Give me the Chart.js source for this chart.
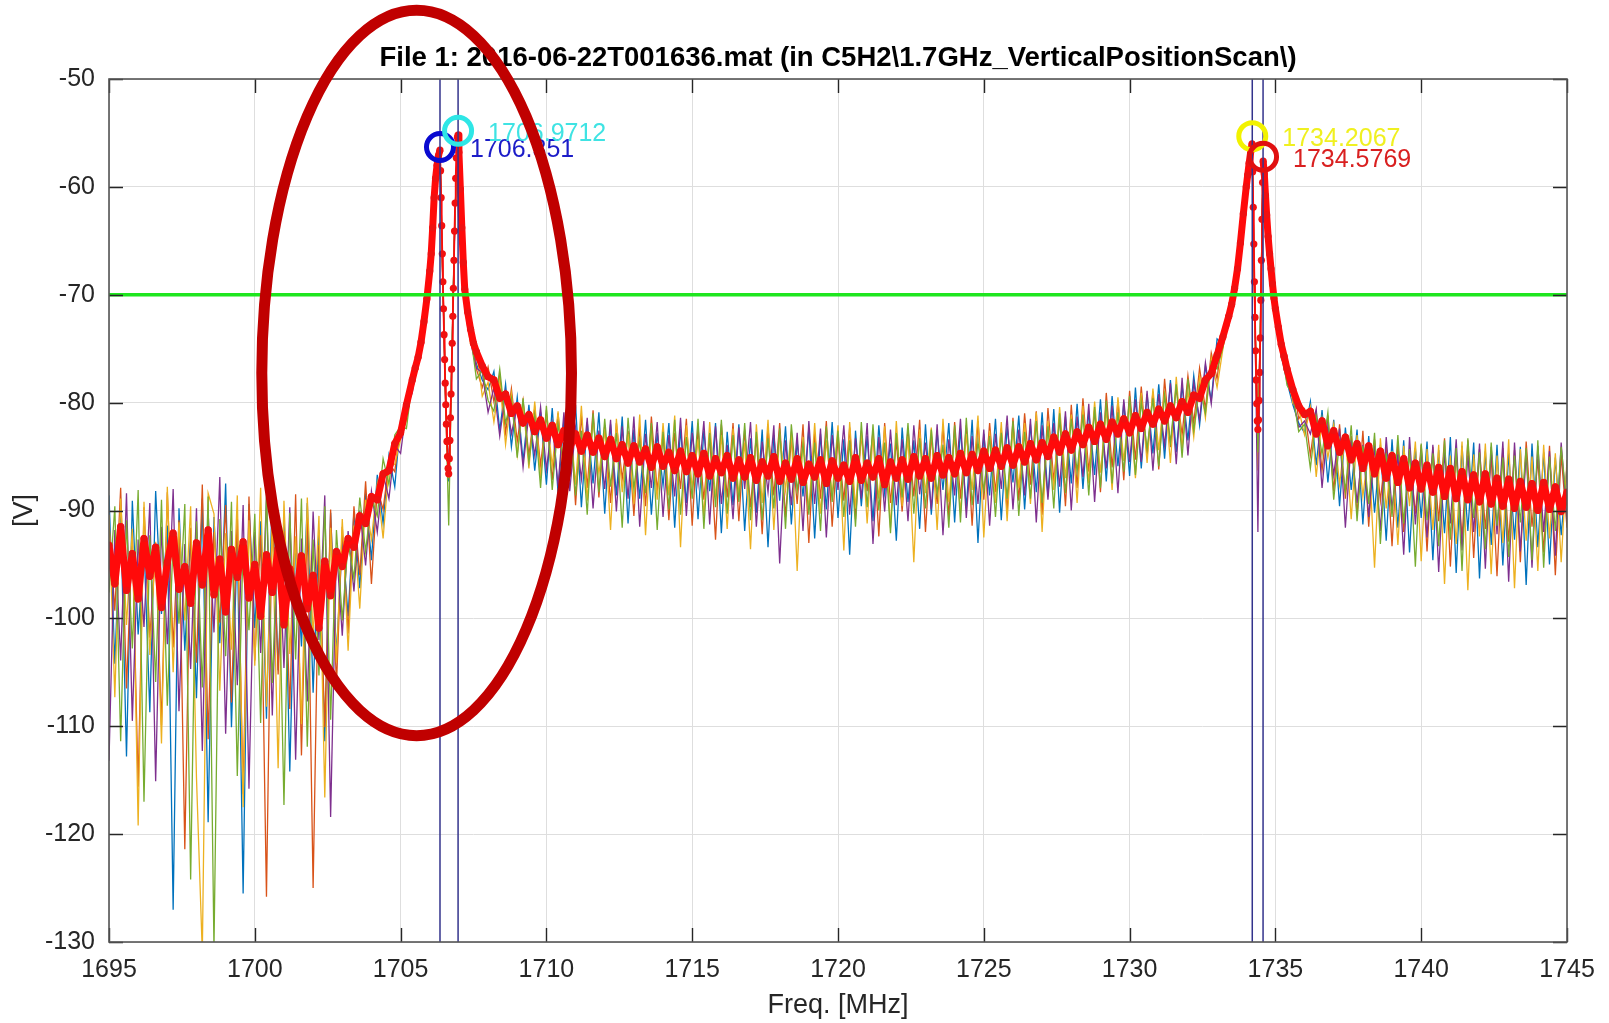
<!DOCTYPE html>
<html>
<head>
<meta charset="utf-8">
<script src="https://cdn.jsdelivr.net/npm/chart.js@4.4.1/dist/chart.umd.min.js"></script>
<style>
  html, body { margin: 0; padding: 0; background: #ffffff; }
  #wrap { width: 1609px; height: 1023px; }
</style>
</head>
<body>
<div id="wrap"><canvas id="c" width="1609" height="1023"></canvas></div>
<script>
// ---------------- DATA ----------------
const titleText = 'File 1: 2016-06-22T001636.mat (in C5H2\\1.7GHz_VerticalPositionScan\\)';
const xTitle = 'Freq. [MHz]';
const yTitle = '[V]';
const xMin = 1695, xMax = 1745, xStep = 5;
const yMin = -130, yMax = -50, yStep = 10;
const threshold = -70;

const peakFreq  = [1706.351, 1706.9712, 1734.2067, 1734.5769];
const peakLevel = [-56.3, -54.8, -55.3, -57.2];
const peakLabel = ['1706.351', '1706.9712', '1734.2067', '1734.5769'];

// frequency samples shared by the individual (coloured) traces
const freq = [
  1695,1695.2,1695.4,1695.6,1695.8,1696,1696.2,1696.4,1696.6,1696.8,
  1697,1697.2,1697.4,1697.6,1697.8,1698,1698.2,1698.4,1698.6,1698.8,
  1699,1699.2,1699.4,1699.6,1699.8,1700,1700.2,1700.4,1700.6,1700.8,
  1701,1701.2,1701.4,1701.6,1701.8,1702,1702.2,1702.4,1702.6,1702.8,
  1703,1703.2,1703.4,1703.6,1703.8,1704,1704.2,1704.4,1704.6,1704.8,
  1705,
  1705.2,1705.4,1705.6,1705.7,1705.8,1705.9,1706,1706.1,1706.2,1706.3,
  1706.35,1706.45,1706.55,1706.65,1706.75,1706.85,1706.95,1707,1707.1,1707.2,
  1707.3,1707.4,1707.6,1707.8,1708,
  1708.2,1708.4,1708.6,1708.8,1709, 1709.2,1709.4,1709.6,1709.8,1710,
  1710.2,1710.4,1710.6,1710.8,1711, 1711.2,1711.4,1711.6,1711.8,1712,
  1712.2,1712.4,1712.6,1712.8,1713, 1713.2,1713.4,1713.6,1713.8,1714,
  1714.2,1714.4,1714.6,1714.8,1715, 1715.2,1715.4,1715.6,1715.8,1716,
  1716.2,1716.4,1716.6,1716.8,1717, 1717.2,1717.4,1717.6,1717.8,1718,
  1718.2,1718.4,1718.6,1718.8,1719, 1719.2,1719.4,1719.6,1719.8,1720,
  1720.2,1720.4,1720.6,1720.8,1721, 1721.2,1721.4,1721.6,1721.8,1722,
  1722.2,1722.4,1722.6,1722.8,1723, 1723.2,1723.4,1723.6,1723.8,1724,
  1724.2,1724.4,1724.6,1724.8,1725, 1725.2,1725.4,1725.6,1725.8,1726,
  1726.2,1726.4,1726.6,1726.8,1727, 1727.2,1727.4,1727.6,1727.8,1728,
  1728.2,1728.4,1728.6,1728.8,1729, 1729.2,1729.4,1729.6,1729.8,1730,
  1730.2,1730.4,1730.6,1730.8,1731, 1731.2,1731.4,1731.6,1731.8,1732,
  1732.2,1732.4,1732.6,1732.8,1733,
  1733.2,1733.4,1733.5,1733.6,1733.7,1733.8,1733.9,1734,1734.1,1734.2,
  1734.3,1734.4,1734.5,1734.58,1734.7,1734.8,1734.9,1735,1735.1,1735.2,
  1735.4,1735.6,1735.8,1736,
  1736.2,1736.4,1736.6,1736.8,1737, 1737.2,1737.4,1737.6,1737.8,1738,
  1738.2,1738.4,1738.6,1738.8,1739, 1739.2,1739.4,1739.6,1739.8,1740,
  1740.2,1740.4,1740.6,1740.8,1741, 1741.2,1741.4,1741.6,1741.8,1742,
  1742.2,1742.4,1742.6,1742.8,1743, 1743.2,1743.4,1743.6,1743.8,1744,
  1744.2,1744.4,1744.6,1744.8,1745
];

const traceBlue = [
  -88.6,-104.2,-90.3,-112.8,-89.1,-101.5,-93.0,-108.7,-88.2,-99.6,
  -91.4,-127.0,-89.8,-103.0,-92.2,-107.4,-88.9,-118.9,-90.6,-102.3,
  -87.5,-110.1,-92.8,-125.5,-89.4,-100.9,-91.0,-109.3,-88.1,-104.8,
  -90.7,-114.2,-92.5,-102.6,-89.3,-106.9,-91.8,-111.4,-90.2,-103.5,
  -92.6,-99.8,-90.1,-97.2,-88.4,-94.6,-86.7,-91.2,-84.9,-87.8,
  -81.6,
  -81.0,-78.6,-75.2,-74.9,-72.0,-70.8,-67.5,-64.2,-59.6,-57.4,-56.9,-69.2,-80.6,-87.3,-77.3,-64.5,-55.8,-57.2,-64.1,-70.2,-72.6,-74.1,-76.4,-77.9,-78.8,
  -77.1,-82.6,-78.3,-84.1,-79.5, -85.4,-80.2,-86.3,-80.9,-87.6,
  -80.5,-88.4,-81.6,-86.9,-80.2, -89.7,-81.8,-87.5,-80.9,-90.3,
  -82.0,-88.6,-81.3,-91.2,-82.5, -88.9,-81.6,-90.4,-82.8,-87.7,
  -81.9,-91.6,-82.4,-89.3,-81.7, -90.8,-82.6,-88.2,-81.9,-92.1,
  -82.7,-89.5,-82.0,-91.9,-83.3, -90.2,-82.5,-93.4,-83.0,-89.1,
  -82.2,-91.3,-83.6,-88.7,-82.4, -92.6,-82.9,-89.9,-81.8,-90.7,
  -83.4,-94.1,-82.6,-89.6,-83.1, -91.0,-82.1,-88.4,-83.8,-92.8,
  -82.3,-89.2,-83.5,-91.7,-82.0, -90.4,-82.7,-88.1,-81.9,-91.1,
  -82.4,-89.8,-81.6,-93.0,-82.9, -88.6,-81.5,-90.9,-82.2,-87.4,
  -81.2,-89.9,-82.0,-88.3,-80.9, -88.7,-80.6,-90.2,-81.3,-87.5,
  -80.1,-88.0,-80.8,-86.7,-79.7, -87.3,-79.4,-85.9,-80.0,-86.8,
  -78.6,-86.1,-79.2,-84.7,-78.3, -85.2,-77.9,-84.6,-78.4,-83.5,
  -77.5,-82.1,-76.6,-79.8,-74.1,
  -74.6,-72.5,-71.4,-69.0,-67.9,-65.5,-62.8,-60.3,-58.1,-56.3,-72.5,-83.1,-70.9,-57.9,-63.0,-66.7,-69.5,-71.9,-73.8,-75.6,-78.1,-80.2,-81.9,-82.8,
  -79.9,-85.8,-80.7,-87.4,-81.6, -89.6,-82.3,-88.1,-82.5,-91.3,
  -83.1,-90.2,-83.9,-92.8,-83.4, -91.6,-83.5,-93.9,-84.2,-90.7,
  -83.6,-94.6,-84.4,-92.1,-83.2, -95.8,-84.0,-91.9,-83.7,-96.3,
  -84.5,-93.2,-83.9,-95.1,-84.7, -92.7,-84.1,-96.9,-83.8,-93.4,
  -84.6,-95.0,-85.1,-92.3,-85.9
];

const traceOrange = [
  -91.2,-99.3,-87.9,-106.5,-92.4,-115.6,-89.7,-101.8,-93.5,-109.9,
  -88.3,-102.7,-90.9,-121.4,-91.6,-104.1,-87.6,-111.2,-92.0,-100.4,
  -89.5,-107.8,-90.4,-116.3,-88.7,-103.9,-92.3,-125.8,-89.0,-105.2,
  -91.9,-108.4,-88.5,-112.7,-90.8,-125.0,-93.2,-110.1,-89.9,-106.3,
  -91.5,-101.4,-89.6,-96.0,-87.3,-96.8,-88.0,-89.9,-85.6,-86.4,
  -82.1,
  -79.6,-78.8,-76.5,-73.9,-72.9,-70.1,-68.1,-63.5,-59.0,-57.3,-56.9,-68.5,-80.0,-86.9,-76.6,-63.9,-55.7,-57.1,-64.5,-70.9,-73.0,-72.8,-76.9,-78.6,-76.7,
  -79.9,-77.5,-82.8,-78.7,-83.6, -79.8,-84.9,-80.5,-85.8,-81.1,
  -87.2,-81.0,-86.4,-80.6,-89.5, -81.2,-87.9,-80.7,-88.8,-82.1,
  -89.3,-81.9,-87.1,-82.6,-90.5, -82.2,-89.6,-81.3,-88.2,-82.9,
  -90.9,-82.8,-88.0,-81.5,-91.4, -82.3,-89.0,-83.1,-92.7,-82.0,
  -88.8,-81.9,-91.0,-82.5,-89.7, -83.1,-92.2,-82.4,-88.6,-81.9,
  -90.6,-83.3,-89.4,-82.0,-93.0, -82.8,-88.9,-81.7,-91.5,-83.2,
  -89.1,-82.3,-90.8,-82.9,-88.2, -82.6,-92.4,-81.9,-89.3,-83.6,
  -90.1,-82.4,-88.7,-81.6,-92.0, -83.0,-89.4,-82.2,-90.6,-81.8,
  -88.9,-82.1,-91.4,-81.7,-89.0, -81.9,-88.3,-82.4,-90.1,-81.4,
  -89.1,-81.0,-87.6,-80.8,-90.4, -80.5,-87.3,-81.4,-89.6,-80.2,
  -87.9,-79.6,-86.4,-80.7,-88.3, -79.1,-86.0,-79.8,-87.2,-78.9,
  -85.3,-78.5,-84.9,-79.0,-86.2, -77.8,-84.1,-78.6,-83.0,-77.5,
  -81.9,-76.8,-80.6,-75.4,-77.8,
  -73.2,-72.8,-70.5,-69.9,-67.2,-65.6,-62.7,-60.2,-58.0,-56.2,-72.3,-83.8,-70.7,-57.8,-62.9,-66.0,-69.6,-71.0,-73.9,-74.3,-77.9,-78.2,-81.5,-80.6,
  -84.9,-80.8,-86.3,-81.2,-88.2, -82.0,-88.9,-83.1,-90.4,-82.6,
  -91.5,-83.4,-89.1,-84.1,-93.3, -83.7,-92.0,-84.6,-90.3,-83.9,
  -93.8,-84.1,-91.0,-83.3,-95.2, -84.6,-92.6,-83.5,-94.4,-84.3,
  -91.7,-85.0,-96.1,-84.2,-92.9, -84.4,-94.8,-83.6,-91.5,-85.2,
  -93.9,-84.0,-96.0,-84.8,-91.6
];

const traceYellow = [
  -90.4,-107.3,-88.9,-100.6,-91.7,-119.2,-89.2,-103.4,-92.9,-111.6,
  -87.8,-105.0,-91.1,-100.2,-89.6,-114.8,-131.0,-88.4,-90.3,-106.7,
  -92.1,-102.9,-88.6,-117.5,-90.9,-104.4,-87.9,-108.2,-91.3,-113.9,
  -89.1,-103.3,-92.4,-109.8,-88.8,-101.7,-90.5,-116.6,-91.6,-104.1,
  -90.8,-103.0,-91.4,-99.1,-89.0,-92.7,-87.5,-92.6,-86.0,-85.7,
  -83.4,
  -81.6,-77.2,-76.9,-74.0,-73.2,-70.6,-67.9,-64.0,-59.4,-57.5,-56.8,-69.0,-80.5,-87.0,-77.1,-64.3,-55.6,-57.0,-63.5,-69.8,-72.7,-74.6,-75.0,-79.4,-78.1,
  -81.8,-78.0,-83.9,-79.2,-84.8, -80.0,-86.1,-79.9,-87.0,-80.7,
  -85.9,-80.8,-88.9,-81.4,-87.6, -80.3,-89.1,-81.5,-86.6,-82.4,
  -91.8,-81.5,-88.3,-82.9,-89.4, -81.1,-92.3,-82.5,-89.0,-81.9,
  -88.6,-81.2,-93.4,-82.1,-87.9, -83.4,-90.5,-81.8,-88.8,-83.0,
  -91.7,-82.4,-88.5,-83.7,-93.6, -82.0,-89.3,-81.6,-91.8,-82.9,
  -88.1,-82.7,-95.6,-83.2,-90.0, -81.9,-90.3,-83.5,-88.6,-82.1,
  -93.7,-81.8,-89.8,-82.6,-91.2, -83.0,-88.9,-82.2,-91.6,-81.7,
  -89.6,-83.1,-94.8,-82.5,-88.4, -82.3,-91.8,-81.5,-89.2,-83.1,
  -90.2,-82.9,-88.1,-81.2,-92.5, -82.6,-89.3,-81.8,-91.0,-82.2,
  -87.9,-81.9,-89.4,-80.9,-92.0, -81.7,-88.1,-80.4,-87.0,-81.1,
  -89.3,-80.3,-87.5,-79.9,-86.5, -80.6,-88.1,-79.5,-85.4,-80.2,
  -87.0,-79.1,-85.6,-78.7,-84.4, -78.9,-85.6,-77.6,-84.2,-78.9,
  -83.2,-77.6,-81.4,-75.9,-78.6,
  -75.0,-71.6,-71.6,-69.1,-68.0,-65.1,-62.6,-60.1,-57.9,-56.1,-72.4,-86.3,-70.6,-57.7,-62.8,-66.5,-68.8,-72.0,-73.4,-75.9,-76.8,-80.1,-80.6,-83.0,
  -80.4,-86.9,-81.5,-85.1,-82.0, -87.6,-82.9,-90.8,-83.0,-88.7,
  -84.2,-95.3,-83.3,-89.8,-84.5, -93.2,-84.0,-89.6,-83.6,-94.7,
  -84.3,-91.8,-83.9,-96.8,-84.9, -93.1,-83.6,-97.4,-84.8,-92.4,
  -83.8,-95.9,-84.9,-93.0,-83.4, -97.2,-84.3,-92.8,-85.0,-95.6,
  -83.9,-92.6,-84.7,-94.8,-85.3
];

const tracePurple = [
  -113.2,-91.8,-103.9,-88.4,-109.5,-92.7,-100.8,-89.3,-115.1,-91.5,
  -102.4,-88.0,-108.6,-93.1,-104.7,-89.8,-112.3,-90.2,-101.3,-86.9,
  -110.7,-91.9,-106.2,-89.5,-115.8,-92.0,-103.2,-88.8,-109.0,-91.2,
  -104.6,-89.7,-113.1,-92.6,-107.7,-90.1,-102.0,-88.6,-118.4,-93.4,
  -101.6,-91.9,-97.5,-90.0,-95.1,-88.2,-92.0,-86.6,-88.9,-84.0,
  -84.7,
  -80.5,-79.1,-75.5,-75.3,-71.8,-71.0,-67.3,-64.1,-59.3,-57.2,-56.8,-68.7,-80.3,-86.8,-77.0,-64.2,-55.6,-56.9,-64.0,-69.9,-71.9,-74.4,-76.8,-77.2,-80.9,
  -78.6,-83.1,-79.0,-82.9,-80.3, -86.0,-81.0,-84.9,-80.4,-86.2,
  -81.9,-87.7,-80.9,-88.2,-82.3, -87.1,-81.4,-89.8,-82.6,-88.0,
  -81.6,-90.1,-82.2,-88.9,-81.3, -91.5,-82.9,-87.9,-81.8,-90.6,
  -83.0,-88.7,-81.4,-90.5,-82.8, -87.6,-81.7,-91.3,-82.2,-89.4,
  -83.9,-90.8,-82.3,-88.0,-81.8, -91.5,-83.6,-88.3,-82.1,-94.9,
  -83.5,-89.5,-82.8,-91.9,-81.7, -89.4,-82.4,-92.5,-83.0,-88.1,
  -82.1,-90.4,-83.3,-88.9,-81.9, -93.1,-83.2,-90.1,-82.5,-89.5,
  -83.4,-91.0,-82.1,-88.5,-83.7, -89.9,-82.0,-92.3,-83.4,-88.6,
  -81.5,-90.7,-83.1,-89.4,-82.5, -91.4,-82.9,-88.0,-81.2,-89.9,
  -82.5,-88.6,-81.5,-91.1,-82.1, -89.0,-81.9,-87.8,-80.8,-90.0,
  -81.3,-86.9,-80.1,-89.2,-80.9, -86.1,-80.3,-88.4,-79.7,-85.5,
  -79.7,-85.5,-78.9,-86.3,-79.2, -84.0,-78.2,-85.7,-77.7,-84.9,
  -78.1,-81.6,-76.3,-80.1,-74.6,
  -74.0,-72.9,-70.7,-69.7,-67.5,-65.4,-62.6,-60.1,-57.9,-56.1,-72.2,-92.0,-70.6,-57.7,-62.7,-66.4,-69.3,-71.6,-72.8,-75.8,-77.4,-79.6,-82.3,-81.7,
  -82.9,-80.6,-87.9,-82.1,-86.7, -82.4,-91.6,-83.5,-89.3,-83.9,
  -90.6,-84.0,-91.9,-83.2,-89.9, -84.8,-94.1,-83.2,-91.3,-84.4,
  -92.5,-83.9,-95.7,-84.6,-91.2, -83.4,-93.7,-84.9,-92.0,-83.8,
  -95.4,-84.1,-92.2,-83.6,-96.6, -83.7,-93.8,-84.6,-95.3,-84.0,
  -92.0,-84.5,-94.2,-83.7,-90.8
];

const traceGreen = [
  -97.6,-89.6,-111.4,-90.9,-102.8,-88.1,-117.0,-92.3,-105.9,-89.0,
  -108.1,-92.5,-100.5,-89.4,-124.2,-91.0,-106.4,-88.7,-130.5,-90.8,
  -103.5,-89.2,-114.6,-92.9,-101.1,-90.3,-109.7,-88.4,-106.0,-91.6,
  -117.3,-90.2,-103.8,-88.9,-111.9,-92.7,-105.3,-89.6,-109.4,-91.8,
  -100.2,-92.9,-96.3,-88.8,-93.8,-88.9,-90.5,-85.2,-87.6,-83.0,
  -82.2,
  -82.4,-78.0,-76.2,-74.6,-72.7,-70.5,-68.0,-63.9,-59.3,-57.2,-56.7,-69.0,-80.4,-91.4,-77.0,-64.2,-55.5,-56.9,-63.9,-70.4,-72.3,-73.7,-77.8,-77.0,-79.8,
  -80.8,-76.9,-81.9,-79.6,-85.1, -79.6,-85.5,-81.2,-87.9,-80.3,
  -88.1,-82.0,-85.7,-81.3,-88.6, -82.6,-90.4,-81.0,-88.3,-81.5,
  -87.8,-82.8,-91.6,-81.4,-88.0, -83.5,-88.4,-81.9,-91.8,-82.7,
  -89.9,-81.6,-90.4,-83.2,-88.9, -81.5,-91.7,-82.8,-89.7,-81.6,
  -90.3,-83.0,-89.2,-81.9,-90.9, -82.7,-90.9,-83.3,-89.8,-82.4,
  -91.7,-82.0,-88.2,-83.8,-90.4, -83.7,-91.9,-82.2,-89.2,-82.6,
  -90.6,-83.5,-91.5,-81.8,-89.7, -82.0,-90.0,-83.7,-92.1,-82.8,
  -88.8,-81.9,-90.3,-83.3,-89.8, -82.5,-88.5,-83.9,-91.6,-82.1,
  -91.1,-81.4,-89.5,-83.6,-88.2, -83.1,-90.6,-82.8,-88.9,-81.7,
  -90.5,-82.7,-88.9,-81.7,-89.3, -82.2,-89.8,-81.0,-88.4,-81.5,
  -86.4,-81.1,-88.6,-80.4,-87.9, -79.8,-87.5,-80.9,-86.4,-79.4,
  -86.7,-79.9,-84.3,-79.6,-85.9, -79.3,-83.7,-78.3,-85.1,-77.8,
  -82.6,-78.4,-81.0,-76.2,-76.9,
  -74.9,-72.2,-71.2,-69.5,-67.8,-65.3,-62.6,-60.1,-57.9,-56.1,-72.2,-84.6,-70.6,-57.7,-62.7,-66.3,-69.2,-71.7,-73.5,-74.9,-78.4,-79.3,-82.7,-82.0,
  -86.1,-81.3,-84.8,-80.9,-89.0, -83.6,-88.2,-82.1,-91.0,-84.0,
  -89.4,-82.8,-93.1,-84.7,-90.6, -83.0,-91.2,-84.3,-95.2,-83.8,
  -90.9,-84.7,-93.3,-83.5,-92.7, -84.2,-95.6,-83.3,-90.7,-84.6,
  -93.6,-83.7,-91.4,-85.1,-94.3, -84.9,-91.1,-84.2,-94.6,-83.5,
  -95.3,-85.0,-91.9,-84.1,-89.6
];

// averaged trace (red, with dots), sampled more finely around the peaks
const meanFreq = [
  1695,1695.2,1695.4,1695.6,1695.8,1696,1696.2,1696.4,1696.6,1696.8,
  1697,1697.2,1697.4,1697.6,1697.8,1698,1698.2,1698.4,1698.6,1698.8,
  1699,1699.2,1699.4,1699.6,1699.8,1700,1700.2,1700.4,1700.6,1700.8,
  1701,1701.2,1701.4,1701.6,1701.8,1702,1702.2,1702.4,1702.6,1702.8,
  1703,1703.2,1703.4,1703.6,1703.8,1704,1704.2,1704.4,1704.6,1704.8,
  1705,
  1705.2,1705.4,1705.5,1705.6,1705.7,1705.8,1705.9,1706,1706.05,1706.1,1706.15,1706.2,1706.25,1706.3,1706.35,
  1706.37,1706.39,1706.41,1706.43,1706.45,1706.47,1706.49,1706.51,1706.53,1706.55,1706.57,1706.59,1706.61,1706.63,1706.65,
  1706.67,1706.69,1706.71,1706.73,1706.75,1706.77,1706.79,1706.81,1706.83,1706.85,1706.87,1706.89,1706.91,1706.93,1706.95,1706.97,
  1707,1707.05,1707.1,1707.15,1707.2,1707.3,1707.4,1707.5,1707.6,1707.8,1708,
  1708.2,1708.4,1708.6,1708.8,1709, 1709.2,1709.4,1709.6,1709.8,1710,
  1710.2,1710.4,1710.6,1710.8,1711, 1711.2,1711.4,1711.6,1711.8,1712,
  1712.2,1712.4,1712.6,1712.8,1713, 1713.2,1713.4,1713.6,1713.8,1714,
  1714.2,1714.4,1714.6,1714.8,1715, 1715.2,1715.4,1715.6,1715.8,1716,
  1716.2,1716.4,1716.6,1716.8,1717, 1717.2,1717.4,1717.6,1717.8,1718,
  1718.2,1718.4,1718.6,1718.8,1719, 1719.2,1719.4,1719.6,1719.8,1720,
  1720.2,1720.4,1720.6,1720.8,1721, 1721.2,1721.4,1721.6,1721.8,1722,
  1722.2,1722.4,1722.6,1722.8,1723, 1723.2,1723.4,1723.6,1723.8,1724,
  1724.2,1724.4,1724.6,1724.8,1725, 1725.2,1725.4,1725.6,1725.8,1726,
  1726.2,1726.4,1726.6,1726.8,1727, 1727.2,1727.4,1727.6,1727.8,1728,
  1728.2,1728.4,1728.6,1728.8,1729, 1729.2,1729.4,1729.6,1729.8,1730,
  1730.2,1730.4,1730.6,1730.8,1731, 1731.2,1731.4,1731.6,1731.8,1732,
  1732.2,1732.4,1732.6,1732.8,1733,
  1733.2,1733.4,1733.5,1733.6,1733.7,1733.8,1733.9,1734,1734.05,1734.1,1734.15,1734.2,
  1734.22,1734.24,1734.26,1734.28,1734.3,1734.32,1734.34,1734.36,1734.38,1734.4,
  1734.42,1734.44,1734.46,1734.48,1734.5,1734.52,1734.54,1734.56,1734.58,
  1734.62,1734.66,1734.7,1734.75,1734.8,1734.85,1734.9,1734.95,1735,1735.1,1735.2,1735.3,1735.4,1735.6,1735.8,1736,
  1736.2,1736.4,1736.6,1736.8,1737, 1737.2,1737.4,1737.6,1737.8,1738,
  1738.2,1738.4,1738.6,1738.8,1739, 1739.2,1739.4,1739.6,1739.8,1740,
  1740.2,1740.4,1740.6,1740.8,1741, 1741.2,1741.4,1741.6,1741.8,1742,
  1742.2,1742.4,1742.6,1742.8,1743, 1743.2,1743.4,1743.6,1743.8,1744,
  1744.2,1744.4,1744.6,1744.8,1745
];
const meanTrace = [
  -93.2,-96.8,-91.5,-97.4,-94.0,-98.2,-92.6,-96.1,-93.4,-99.0,
  -94.8,-92.1,-97.3,-95.2,-98.6,-93.0,-96.9,-91.8,-97.8,-94.5,
  -99.4,-93.6,-96.2,-92.9,-98.1,-95.0,-99.8,-94.1,-97.6,-93.5,
  -100.6,-95.4,-98.3,-94.2,-99.1,-96.0,-100.9,-94.7,-97.9,-93.8,
  -95.2,-92.6,-93.4,-90.5,-91.2,-88.7,-89.0,-86.6,-86.3,-83.8,
  -82.8,
  -80.2,-77.9,-76.8,-75.8,-74.4,-72.5,-70.4,-67.8,-66.2,-63.8,-61.0,-59.2,-58.0,-57.1,-56.6,
  -58.5,-61.0,-63.6,-66.2,-68.8,-71.3,-73.7,-76.0,-78.2,-80.2,-82.0,-83.6,-85.0,-86.1,-86.6,
  -85.2,-83.5,-81.4,-79.2,-76.9,-74.5,-72.0,-69.4,-66.8,-64.1,-61.5,-59.2,-57.3,-56.0,-55.4,-55.2,
  -56.8,-60.2,-63.8,-67.0,-69.5,-71.6,-73.2,-74.5,-75.3,-76.6,-77.6,
  -77.9,-79.6,-79.2,-81.0,-80.3, -81.9,-81.1,-82.7,-81.6,-83.3,
  -82.1,-83.9,-82.6,-84.2,-82.9, -84.5,-83.0,-84.6,-83.3,-85.0,
  -83.4,-85.2,-83.9,-85.6,-84.0, -85.5,-84.3,-86.0,-84.1,-85.9,
  -84.6,-86.3,-84.5,-86.4,-84.9, -86.6,-84.7,-86.8,-85.2,-86.5,
  -84.9,-87.0,-85.3,-86.9,-85.1, -87.2,-85.5,-86.8,-85.0,-87.3,
  -85.6,-87.1,-85.2,-87.4,-85.7, -86.9,-85.3,-87.5,-85.4,-87.0,
  -85.8,-87.3,-85.1,-87.2,-85.6, -86.9,-85.2,-87.6,-85.5,-87.0,
  -85.3,-87.1,-85.0,-86.8,-85.2, -87.0,-84.9,-86.7,-85.1,-86.6,
  -84.7,-86.5,-84.8,-86.3,-84.5, -86.1,-84.4,-85.9,-84.2,-85.8,
  -84.1,-85.5,-83.8,-85.3,-83.7, -85.0,-83.2,-84.6,-82.9,-84.4,
  -82.7,-83.9,-82.3,-83.6,-82.0, -83.4,-81.8,-82.9,-81.5,-82.8,
  -81.2,-82.4,-80.9,-82.0,-80.6, -81.7,-80.3,-81.4,-79.9,-80.9,
  -79.3,-79.6,-77.9,-77.3,-75.6,
  -73.9,-72.0,-70.9,-69.4,-67.6,-65.2,-62.5,-60.0,-58.9,-57.8,-56.8,-56.0,
  -58.6,-61.9,-65.3,-68.8,-72.1,-75.2,-77.9,-80.1,-81.7,-82.5,
  -81.6,-79.8,-77.2,-74.0,-70.5,-66.8,-63.0,-59.6,-57.6,
  -58.8,-60.8,-62.6,-64.6,-66.2,-67.6,-69.0,-70.3,-71.3,-73.0,-74.6,-75.7,-76.9,-78.8,-80.3,-81.1,
  -80.8,-82.9,-81.7,-84.0,-82.6, -84.6,-83.2,-85.3,-83.8,-86.1,
  -84.0,-86.6,-84.5,-87.0,-84.9, -87.4,-85.2,-87.9,-85.6,-88.0,
  -85.8,-88.3,-86.0,-88.7,-86.1, -88.9,-86.4,-89.0,-86.7,-89.2,
  -86.6,-89.4,-87.0,-89.6,-87.1, -89.8,-87.3,-89.7,-87.5,-90.0,
  -87.4,-89.9,-87.8,-90.1,-88.3
];

// ---------------- STYLE ----------------
const FONT = "'Liberation Sans', Arial, Helvetica, sans-serif";
const traceColors = { blue: '#0072BD', orange: '#D95319', yellow: '#EDB120', purple: '#7E2F8E', green: '#77AC30' };
const peakColors = ['#0a0ad0', '#2ee6e6', '#f2f200', '#e01010'];
const labelColors = ['#1c1cc8', '#3fe3e3', '#f0f020', '#d92020'];
// highlight ellipse (annotation) in data units
const highlight = { cx: 1705.55, cy: -77.25, rx: 5.31, ry: 33.62 };

// sanity check
[['traceBlue',traceBlue],['traceOrange',traceOrange],['traceYellow',traceYellow],['tracePurple',tracePurple],['traceGreen',traceGreen]].forEach(([n,a])=>{
  if (a.length !== freq.length) throw new Error(n + ' length ' + a.length + ' vs ' + freq.length);
});
if (meanTrace.length !== meanFreq.length) throw new Error('mean length ' + meanTrace.length + ' vs ' + meanFreq.length);

const pts = (xs, ys) => xs.map((x, i) => ({ x: x, y: ys[i] }));

// thin, dotted look for the mean trace between the two peaks of each pair
const inDip = (a, b) => (a >= peakFreq[0] - 0.005 && b <= peakFreq[1] + 0.005) ||
                        (a >= peakFreq[2] - 0.01 && b <= peakFreq[3] + 0.005);

const traceSet = (data, color, ord) => ({
  type: 'line', data: pts(freq, data), borderColor: color, borderWidth: 1.3,
  pointRadius: 0, tension: 0, order: ord
});

const datasets = [
  { type: 'scatter', data: pts(peakFreq, peakLevel), showLine: false,
    pointRadius: 13.5, pointHoverRadius: 13.5, pointBorderWidth: 5, pointBackgroundColor: 'rgba(0,0,0,0)',
    pointBorderColor: peakColors, order: 0 },
  { type: 'line', data: [{ x: xMin, y: threshold }, { x: xMax, y: threshold }],
    borderColor: '#1ee61e', borderWidth: 3.5, pointRadius: 0, order: 1 }
];
peakFreq.forEach(f => datasets.push({
  type: 'line', data: [{ x: f, y: yMin }, { x: f, y: yMax }],
  borderColor: '#33338c', borderWidth: 1.5, pointRadius: 0, order: 2
}));
datasets.push({
  type: 'line', data: pts(meanFreq, meanTrace), borderColor: '#ff0a0a', borderWidth: 7,
  borderJoinStyle: 'round', pointRadius: 3.6, pointBackgroundColor: '#f01010', pointBorderWidth: 0,
  tension: 0, order: 3,
  segment: { borderWidth: c => inDip(c.p0.parsed.x, c.p1.parsed.x) ? 1.8 : 7 }
});
datasets.push(traceSet(traceGreen, traceColors.green, 4));
datasets.push(traceSet(tracePurple, traceColors.purple, 5));
datasets.push(traceSet(traceYellow, traceColors.yellow, 6));
datasets.push(traceSet(traceOrange, traceColors.orange, 7));
datasets.push(traceSet(traceBlue, traceColors.blue, 8));

const overlay = {
  id: 'overlay',
  afterDraw(chart) {
    const { ctx, chartArea: a, scales } = chart;
    const x = scales.x, y = scales.y;
    ctx.save();
    // inward tick marks on all four sides
    ctx.strokeStyle = '#262626';
    ctx.lineWidth = 1.4;
    ctx.beginPath();
    x.ticks.forEach(t => {
      const px = Math.round(x.getPixelForValue(t.value)) + 0.5;
      ctx.moveTo(px, a.bottom); ctx.lineTo(px, a.bottom - 14);
      ctx.moveTo(px, a.top); ctx.lineTo(px, a.top + 14);
    });
    y.ticks.forEach(t => {
      const py = Math.round(y.getPixelForValue(t.value)) + 0.5;
      ctx.moveTo(a.left, py); ctx.lineTo(a.left + 14, py);
      ctx.moveTo(a.right, py); ctx.lineTo(a.right - 14, py);
    });
    ctx.stroke();
    // box
    ctx.strokeStyle = '#555555';
    ctx.lineWidth = 1.6;
    ctx.strokeRect(a.left, a.top, a.right - a.left, a.bottom - a.top);
    // peak labels
    ctx.font = '25px ' + FONT;
    ctx.textAlign = 'left';
    ctx.textBaseline = 'middle';
    peakFreq.forEach((f, i) => {
      ctx.fillStyle = labelColors[i];
      ctx.fillText(peakLabel[i], x.getPixelForValue(f) + 30, y.getPixelForValue(peakLevel[i]) + 3);
    });
    // highlight ellipse
    const cx = x.getPixelForValue(highlight.cx), cy = y.getPixelForValue(highlight.cy);
    const rx = Math.abs(x.getPixelForValue(highlight.cx + highlight.rx) - cx);
    const ry = Math.abs(y.getPixelForValue(highlight.cy + highlight.ry) - cy);
    ctx.beginPath();
    ctx.ellipse(cx, cy, rx, ry, 0, 0, Math.PI * 2);
    ctx.strokeStyle = '#c00000';
    ctx.lineWidth = 11;
    ctx.stroke();
    ctx.restore();
  }
};

Chart.defaults.font.family = FONT;
new Chart(document.getElementById('c'), {
  data: { datasets },
  options: {
    responsive: false,
    animation: false,
    devicePixelRatio: 1,
    layout: { padding: { top: 0, right: 42, bottom: 0, left: 0 } },
    plugins: {
      legend: { display: false },
      tooltip: { enabled: false },
      title: {
        display: true, text: titleText, fullSize: false,
        color: '#000000', font: { size: 27.5, weight: 'bold', family: FONT, lineHeight: 1.2 },
        padding: { top: 42, bottom: 4 }
      }
    },
    scales: {
      x: {
        type: 'linear', min: xMin, max: xMax,
        afterFit: s => { s.height = 81; },
        ticks: { stepSize: xStep, color: '#262626', font: { size: 25 }, padding: 13,
                 maxRotation: 0, autoSkip: false, callback: v => String(v) },
        grid: { color: '#dedede', lineWidth: 1, drawTicks: false },
        border: { display: false },
        title: { display: true, text: xTitle, color: '#262626', font: { size: 27, lineHeight: 1.2 },
                 padding: { top: 0, bottom: 1 } }
      },
      y: {
        type: 'linear', min: yMin, max: yMax,
        afterFit: s => { s.width = 109; },
        ticks: { stepSize: yStep, color: '#262626', font: { size: 25 }, padding: 14,
                 callback: v => String(v) },
        grid: { color: '#dedede', lineWidth: 1, drawTicks: false },
        border: { display: false },
        title: { display: true, text: yTitle, color: '#262626', font: { size: 27, lineHeight: 1.2 },
                 padding: { top: 8, bottom: 0 } }
      }
    }
  },
  plugins: [overlay]
});
</script>
</body>
</html>
